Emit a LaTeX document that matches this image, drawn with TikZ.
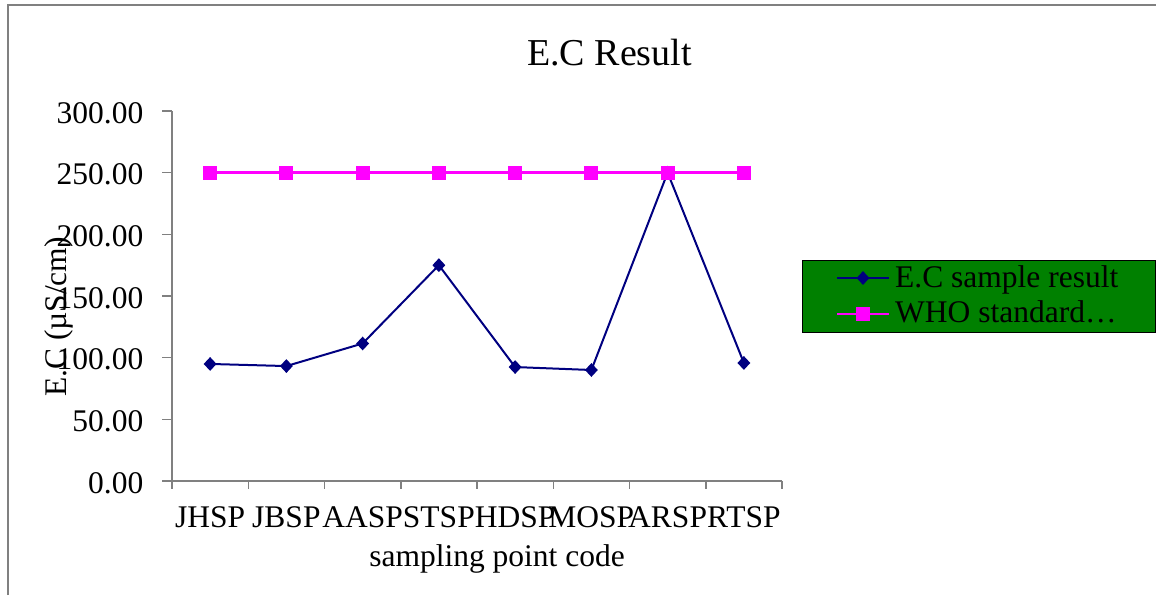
\documentclass[tikz,border=0pt]{standalone}
\usepackage{fontspec}
\setmainfont{Liberation Serif}
\usetikzlibrary{shapes.geometric}
\definecolor{navyc}{RGB}{0,0,128}
\definecolor{magc}{RGB}{255,0,255}
\definecolor{legg}{RGB}{0,128,0}
\definecolor{axisg}{RGB}{128,128,128}
\begin{document}
\begin{tikzpicture}[x=1pt,y=-1pt,
  lbl/.style={font=\fontsize{31.5}{34}\selectfont, inner sep=0pt},
  titlelbl/.style={font=\fontsize{38}{40}\selectfont, inner sep=0pt, anchor=base},
  axisline/.style={draw=axisg, line width=1.5pt},
  frameline/.style={draw=axisg, line width=1.5pt},
  navyline/.style={draw=navyc, line width=2pt, line join=round},
  magline/.style={draw=magc, line width=2.5pt},
  dmark/.style={diamond, fill=navyc, inner sep=0pt, minimum width=13pt, minimum height=14pt},
  smark/.style={rectangle, fill=magc, inner sep=0pt, minimum size=14pt},
  legbox/.style={draw=black, line width=0.8pt, fill=legg}]
\useasboundingbox (0,0) rectangle (1156,595);
% outer frame
\coordinate (f1) at (8,595);
\coordinate (f2) at (8,5);
\coordinate (f3) at (1156,5);
\draw[frameline] (f1) -- (f2) -- (f3);
% title
\node[titlelbl] (title) at (609.5,65) {E.C Result};
% axes
\coordinate (ytop) at (172,111);
\coordinate (orig) at (172,481);
\coordinate (xend) at (782,481);
\draw[axisline] (ytop) -- (orig) -- (xend);
\foreach \v/\t [count=\i] in {0/0.00,50/50.00,100/100.00,150/150.00,200/200.00,250/250.00,300/300.00}{
  \pgfmathsetmacro{\yy}{481-\v*1.233333}
  \draw[axisline] (162,\yy) -- (172,\yy);
  \node[lbl, anchor=base east] (yl\i) at (143.5,\yy+12) {\t};
}
\foreach \k in {0,...,8}{
  \pgfmathsetmacro{\xx}{172+\k*76.25}
  \draw[axisline] (\xx,481) -- (\xx,489);
}
\foreach \c [count=\i from 0] in {JHSP,JBSP,AASP,STSP,HDSP,MOSP,ARSP,RTSP}{
  \pgfmathsetmacro{\xx}{172+(\i+0.5)*76.25}
  \node[lbl, anchor=base] (xl\i) at (\xx,527) {\c};
}
\node[lbl, anchor=base] (xtitle) at (497,566.5) {sampling point code};
\node[lbl, anchor=base, rotate=90] (ytitle) at (66,317) {E.C (µS/cm)};
% series coordinates
\foreach \v [count=\i from 0] in {94.9,93.2,111.5,175,92.4,90,250,95.7}{
  \pgfmathsetmacro{\xx}{172+(\i+0.5)*76.25}
  \pgfmathsetmacro{\yy}{481-\v*1.233333}
  \coordinate (e\i) at (\xx,\yy);
  \pgfmathsetmacro{\ys}{481-250*1.233333}
  \coordinate (w\i) at (\xx,\ys);
}
\draw[navyline] (e0) -- (e1) -- (e2) -- (e3) -- (e4) -- (e5) -- (e6) -- (e7);
\foreach \i in {0,...,7}{ \node[dmark] (em\i) at (e\i) {}; }
\draw[magline] (w0) -- (w1) -- (w2) -- (w3) -- (w4) -- (w5) -- (w6) -- (w7);
\foreach \i in {0,...,7}{ \node[smark] (wm\i) at (w\i) {}; }
% legend
\node[legbox, minimum width=353pt, minimum height=72pt, anchor=north west, inner sep=0pt] (leg) at (802,260) {};
\coordinate (la1) at (837,278);
\coordinate (lb1) at (889,278);
\draw[navyline] (la1) -- (lb1);
\node[dmark] (lm1) at (863,278) {};
\coordinate (la2) at (837,314);
\coordinate (lb2) at (889,314);
\draw[magline] (la2) -- (lb2);
\node[smark] (lm2) at (863,314) {};
\node[lbl, anchor=base west] (lt1) at (895,287) {E.C sample result};
\node[lbl, anchor=base west] (lt2) at (895,322) {WHO standard…};
\end{tikzpicture}
\end{document}
